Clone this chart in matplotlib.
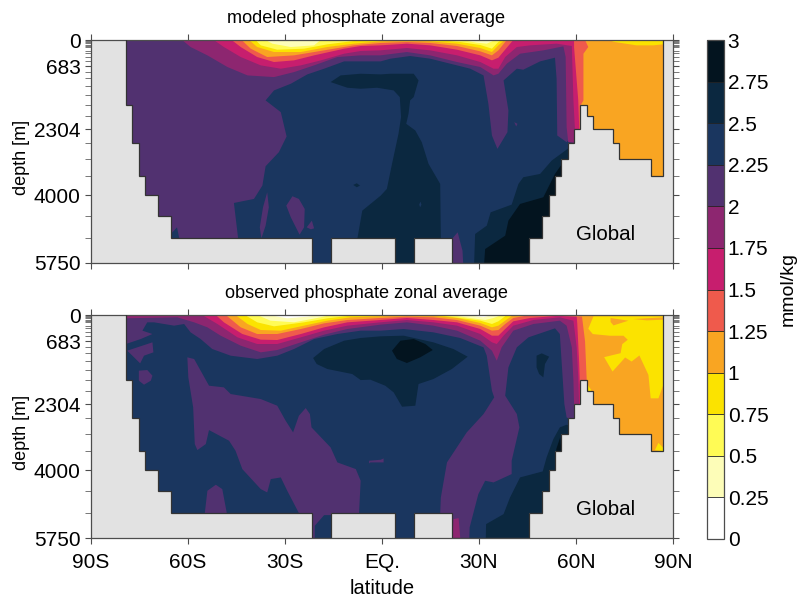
import matplotlib
matplotlib.use('Agg')
import matplotlib.pyplot as plt
from matplotlib.colors import ListedColormap, BoundaryNorm
from matplotlib.cm import ScalarMappable

plt.rcParams['font.family'] = ['Liberation Sans', 'DejaVu Sans']

# colour bands, lowest to highest
band_levels = [0, 0.25, 0.5, 0.75, 1, 1.25, 1.5, 1.75, 2, 2.25, 2.5, 2.75, 3]
band_labels = ['0', '0.25', '0.5', '0.75', '1', '1.25', '1.5', '1.75', '2', '2.25', '2.5', '2.75', '3']
band_colors = ['#ffffff', '#fdfdb8', '#fffb55', '#fbe300', '#f9a522', '#ef5a4c',
               '#c71e6e', '#8d2670', '#513170', '#1a365f', '#0b2840', '#03141f']
WHITE, PALE, YELLOW, GOLD, ORANGE, CORAL, MAGENTA, PLUM, PURPLE, NAVY, DARK, BLACK = band_colors

# model levels used as depth ticks
depth_levels = [0, 34, 60, 86, 120, 146, 189, 275, 344, 430, 551, 683, 818, 990, 1197, 1421,
                1679, 1963, 2304, 2660, 3065, 3503, 4000, 4536, 5113, 5750]
depth_labelled = [0, 683, 2304, 4000, 5750]
lat_ticks = [-90, -60, -30, 0, 30, 60, 90]
lat_labels = ['90S', '60S', '30S', 'EQ.', '30N', '60N', '90N']

# sea floor: cell edges in latitude, floor depth of each cell
floor_lat = [-79.2, -77.2, -75.2, -73.2, -69.3, -65.3, -21.7, -15.7, 3.9, 10, 21.8, 45.6, 49.6,
             51.6, 53.5, 55.5, 57.4, 59.4, 61.3, 63.3, 65.3, 71.3, 73.3, 83.1, 87]
floor_dep = [1687, 2660, 3503, 3994, 4536, 5113, 5750, 5113, 5750, 5113, 5750, 5113, 4536,
             3994, 3503, 3065, 2660, 2290, 1687, 1971, 2290, 2660, 3065, 3503]

# ---- modeled panel, contour outlines as (lat, depth) ----
m_purple = [(-80, 0), (-80, 5200), (-65.3, 5200), (-65.3, 5000), (-63.4, 4830), (-62.7, 5114), (-44.5, 5114),
            (-45.8, 4202), (-39.6, 4098), (-37, 3754), (-36, 3255), (-31.9, 2893), (-29.5, 2488), (-31.3, 1860),
            (-36, 1558), (-33.4, 1300), (-28.2, 1128), (-23.1, 887), (-17.9, 740), (-11.7, 551), (-0.4, 551),
            (2.6, 482), (8.7, 413), (14.9, 482), (21.1, 611), (27.3, 740), (31.4, 913), (32.9, 1644), (34, 2462),
            (35.7, 2807), (38.8, 2376), (39.1, 1817), (37.6, 1042), (41.7, 740), (43.7, 766), (48.9, 551),
            (53.5, 456), (54, 999), (54.2, 2462), (57.1, 2635), (59.4, 2420), (63, 2420), (63, 0)]
m_purple_a = [(-35.5, 3926), (-36.8, 4314), (-37.8, 4830), (-37.3, 5114), (-36, 4787), (-35, 4314)]
m_purple_b = [(-27.7, 4029), (-29.6, 4271), (-28.2, 4572), (-25.5, 5019), (-24.1, 4830), (-23.9, 4357), (-25.7, 4098)]
m_purple_c = [(-23.3, 4830), (-21.7, 4658), (-21, 4856), (-22, 4882)]
m_purple_d = [(21.8, 5114), (23.4, 4959), (24.9, 5433), (25.1, 5750), (21.8, 5750)]
m_purple_e = [(40.9, 2118), (41.9, 2161), (41.5, 2230)]
m_dark = [(-15.9, 1085), (-12.8, 913), (-6.6, 870), (-0.4, 887), (2.6, 870), (9.8, 870), (11.3, 1042), (9.8, 1472),
          (8.7, 1558), (8.2, 1903), (7.5, 2161), (10.3, 2333), (12.3, 2635), (14.4, 3194), (18, 3711), (18.2, 5114),
          (18.2, 5750), (-7.6, 5750), (-7.6, 5114), (-6.1, 4400), (-0.4, 4012), (1.5, 3840), (3.1, 3194), (5.1, 2419),
          (5.9, 1989), (5.5, 1472), (3.6, 1300), (-1.5, 1231), (-6.6, 1257), (-10.7, 1231)]
m_dark_dot = [(-8.9, 3737), (-7.8, 3694), (-6.8, 3754), (-7.8, 3797)]
m_navy_dot = [(11.9, 4167), (12.2, 4245), (11.8, 4314), (11.5, 4245)]
m_dark_n = [(28.5, 5750), (28.8, 5002), (32.4, 4787), (33.6, 4443), (40.1, 4245), (42.2, 3711), (43.7, 3539),
            (48.9, 3453), (52.5, 3108), (55.6, 2919), (58.1, 2764), (62, 3000), (62, 5750)]
m_black = [(31.6, 5750), (31.9, 5390), (38.1, 5045), (39.1, 4658), (42.7, 4227), (49.9, 4055), (53.5, 3453),
           (55.3, 3237), (56.1, 3194), (62, 3500), (62, 5750)]
m_plum = [(-61.8, 0), (-59.2, 181), (-54, 396), (-47.8, 697), (-41.6, 913), (-33.4, 956), (-27.2, 827), (-21, 654),
          (-13.8, 439), (-6.6, 396), (-0.5, 396), (7.7, 310), (14.9, 396), (23.2, 568), (30.4, 697), (34.5, 913),
          (36, 870), (38.6, 611), (42.7, 353), (49.9, 267), (56.1, 164), (56.8, 439), (57.1, 2247), (57.6, 2635),
          (65, 2700), (65, 0)]
m_magenta = [(-52, 0), (-48.9, 181), (-43.7, 439), (-37.5, 654), (-31.3, 740), (-25.1, 654), (-18.9, 525),
             (-11.7, 353), (-6.6, 284), (-0.5, 267), (7.7, 207), (14.9, 267), (23.2, 396), (30.4, 568), (34.5, 740),
             (36, 740), (38.1, 439), (41.7, 181), (45.8, 138), (54, 95), (58.7, 155), (59.2, 1558), (59.7, 2333),
             (66, 2400), (66, 0)]
m_coral = [(-46.5, 0), (-43.7, 181), (-38.6, 439), (-33.4, 568), (-27.2, 525), (-21, 396), (-11.7, 224), (-6.6, 155),
           (-0.5, 138), (7.7, 95), (14.9, 138), (23.2, 250), (30.4, 396), (34, 525), (36, 456), (38.6, 198), (40.6, 0)]
m_coral_n = [(59.4, 0), (59.4, 181), (60.7, 1558), (61, 2290), (66, 2400), (66, 0)]
m_orange = [(-43.4, 0), (-40.6, 224), (-35.5, 439), (-27.2, 396), (-17.9, 267), (-8.7, 138), (-0.4, 77), (7.7, 52),
            (14.9, 77), (23.2, 155), (30.4, 293), (34, 396), (36, 267), (38.6, 0)]
m_orange_n = [(62.8, 0), (63.8, 181), (62.3, 353), (62.3, 1558), (61.4, 1687), (61.4, 1800), (64, 3600), (90, 3600), (90, 0)]
m_gold = [(-41.1, 0), (-38.6, 181), (-33.4, 310), (-25.1, 310), (-16.9, 181), (-8.7, 95), (-0.4, 34), (7.7, 17),
          (14.9, 34), (23.2, 95), (30.4, 207), (34, 310), (36, 138), (37.9, 0)]
m_gold_n = [(70, 0), (72, 52), (78.7, 138), (83.9, 138), (87, 112), (87, 0)]
m_yellow = [(-39.1, 0), (-37.5, 138), (-32.4, 250), (-24.1, 224), (-16.9, 112), (-8.7, 26), (-6.1, 0)]
m_yellow_n = [(16.5, 0), (24.2, 52), (30.4, 129), (34, 224), (36, 52), (37, 0)]
m_pale = [(-36, 0), (-33.9, 95), (-28.2, 181), (-21, 138), (-19, 0)]
m_pale_n = [(24.7, 0), (29.3, 69), (32.4, 95), (35, 0)]

# ---- observed panel ----
o_purple = [(-80, 0), (-79.2, 748), (-74.6, 619), (-71, 490), (-74.1, 404), (-72.6, 189), (-70.5, 189), (-64.3, 275),
            (-61.2, 232), (-59.2, 447), (-56.1, 619), (-52.5, 877), (-46.8, 1049), (-38.6, 1135), (-32.4, 1049),
            (-27.2, 877), (-21, 619), (-13.8, 490), (-6.6, 404), (-0.5, 404), (6.7, 361), (15.9, 447), (24.2, 593),
            (31.4, 834), (32.4, 1049), (34, 1952), (34.7, 2124), (31.4, 2554), (26.2, 3027), (20.1, 3801), (18.2, 4704),
            (18, 5108), (18, 5750), (27, 5750), (27.1, 5478), (29.8, 4618), (31.9, 4274), (34.5, 4317), (40.1, 4102),
            (40.1, 3758), (42.5, 2898), (41.7, 2554), (38.1, 2081), (39.1, 1350), (41.7, 834), (45.3, 576), (53.5, 344),
            (55, 490), (55.6, 1264), (56.4, 2296), (57.1, 2640), (59.2, 2726), (65, 2800), (65, 0)]
o_purple_body = [(-60.2, 1092), (-58.1, 1135), (-53.5, 1823), (-48.9, 1866), (-46.8, 2038), (-37.5, 2167), (-32.4, 2339),
                 (-29.8, 2726), (-27.5, 3027), (-25.7, 2597), (-23.6, 2399), (-22.3, 2554), (-21.8, 2898), (-15.9, 3414),
                 (-13.8, 3801), (-8.1, 3973), (-6.6, 4274), (-7.1, 5108), (-25.7, 5108), (-29.3, 4532), (-31.3, 4188),
                 (-34.4, 4231), (-35.5, 4575), (-37.5, 4489), (-43.2, 3973), (-45.3, 3500), (-47.3, 3242), (-53.5, 2967),
                 (-54.5, 3328), (-57.1, 3483), (-57.9, 3328), (-58.4, 2382), (-59.9, 1608)]
o_purple_a = [(-78.8, 920), (-71, 705), (-70.7, 963), (-73.6, 1049), (-74.8, 1247), (-77.2, 1049)]
o_purple_b = [(-75.2, 1436), (-72.6, 1419), (-71, 1565), (-71.5, 1694), (-73.6, 1797), (-75.2, 1694)]
o_purple_c = [(-54.8, 5108), (-54, 4532), (-51.4, 4377), (-49.4, 4489), (-48, 5108)]
o_purple_d = [(-4, 3758), (-0.4, 3732), (0.5, 3698), (0.5, 3801), (-3.6, 3801), (-4, 3827)]
o_purple_e = [(-22, 5100), (-15.7, 5100), (-15.7, 5160), (-17.9, 5160), (-20.8, 5435), (-20.8, 5750), (-22, 5750)]
o_plum_b = [(21.8, 5750), (22.1, 5263), (23.7, 5237), (24.2, 5750)]
o_dark = [(-21.3, 1109), (-17.9, 877), (-11.7, 662), (-6.6, 593), (-0.5, 550), (6.7, 533), (15.9, 705), (22.1, 877),
          (26.5, 1075), (21.6, 1393), (15.9, 1651), (11.3, 1780), (10.3, 2339), (6.2, 2365), (3.6, 1995), (1, 1823),
          (-3.6, 1668), (-6.6, 1677), (-9.2, 1522), (-16.9, 1393), (-20.2, 1264)]
o_black = [(3.1, 920), (5.7, 662), (9.8, 619), (13.4, 748), (15.7, 903), (11.8, 1092), (7.7, 1238), (4.6, 1135)]
o_dark_a = [(47.8, 1049), (49.4, 989), (51.7, 1075), (50.4, 1264), (49.9, 1608), (48.6, 1522), (47.8, 1350)]
o_dark_n = [(32.1, 5750), (32.2, 5392), (37.6, 5134), (39.6, 4704), (42.7, 4188), (49.7, 4033), (50.9, 3672), (53, 3199),
            (55, 2898), (57.1, 2829), (62, 3000), (62, 5750)]
o_black_n = [(53.9, 3457), (55.1, 3156), (55.5, 3500), (53.9, 3517)]
o_plum = [(-80, 0), (-80, 86), (-63.3, 60), (-58.1, 189), (-54, 318), (-49.9, 533), (-43.7, 791), (-37.5, 963), (-32.4, 903),
          (-25.1, 705), (-17.9, 507), (-10.7, 361), (-0.5, 249), (7.7, 189), (15.9, 275), (23.2, 404), (30.4, 662), (34, 920),
          (35.5, 1178), (37, 834), (40.6, 404), (46.8, 232), (55, 146), (57.1, 275), (58.7, 834), (59.2, 1695), (59.4, 2296),
          (65, 2500), (65, 0)]
o_magenta = [(-55.6, 0), (-50.9, 232), (-44.7, 576), (-38.6, 748), (-32.4, 748), (-25.1, 576), (-17.9, 404), (-10.7, 275),
             (-0.5, 189), (7.7, 129), (15.9, 189), (23.2, 275), (30.4, 490), (34, 705), (35.5, 748), (37.6, 533), (40.6, 275),
             (46.8, 129), (55, 60), (59.2, 146), (60.2, 834), (60.7, 1608), (61, 2400), (66, 2500), (66, 0)]
o_coral = [(-51.4, 0), (-48.9, 189), (-43.2, 490), (-37.5, 636), (-32.4, 645), (-25.1, 490), (-17.9, 318), (-10.7, 189),
           (-0.5, 129), (7.7, 77), (15.9, 129), (23.2, 189), (30.4, 361), (34, 533), (36, 533), (38.1, 361), (40.6, 163),
           (45.8, 77), (55, 17), (57.1, 0)]
o_coral_n = [(60.2, 0), (60.4, 232), (61, 1264), (61.2, 1780), (66, 2400), (66, 0)]
o_orange = [(-48.3, 0), (-43.7, 318), (-38.6, 490), (-32.4, 490), (-25.1, 361), (-17.9, 215), (-10.7, 129), (-0.5, 77),
            (7.7, 43), (15.9, 60), (23.2, 129), (30.4, 275), (34, 404), (36, 387), (38.1, 232), (40.6, 77), (45.8, 0)]
o_orange_n = [(61.8, 0), (62.8, 680), (63.3, 1650), (63.3, 1800), (64, 3600), (90, 3600), (90, 0)]
o_orange_top = [(47, 0), (62, 0), (62, 40), (55, 25)]
o_gold = [(-45.3, 0), (-41.6, 232), (-37.5, 387), (-31.3, 404), (-24.1, 275), (-16.9, 146), (-9.7, 60), (-0.5, 34), (7.7, 9),
          (15.9, 26), (23.2, 77), (30.4, 206), (34, 318), (36, 275), (38.1, 146), (40.6, 0)]
o_gold_n = [(65.4, 34), (63.8, 354), (65.2, 492), (70.5, 535), (74.7, 535), (76, 639), (74.3, 751), (73.8, 984), (68.7, 1087),
            (71.3, 1458), (75.2, 1096), (77.2, 1200), (79.6, 1044), (82.4, 1545), (83.1, 2149), (85.5, 2149), (87, 1804),
            (90, 1804), (90, 34)]
o_orange_p = [(70.7, 78), (76.2, 147), (71.6, 268), (70.7, 181)]
o_orange_q = [(77.7, 104), (87, 60), (87, 121), (81.9, 138)]
o_gold_p = [(84.4, 3486), (85.5, 3297), (87, 3426), (87, 3512)]
o_gold_q = [(63.5, 1786), (64.7, 1933), (64.3, 1976), (63.3, 1933)]
o_yellow = [(-42.4, 0), (-38.6, 189), (-33.4, 292), (-24.1, 189), (-16.9, 86), (-9.7, 17), (-8.7, 0)]
o_yellow_n = [(17, 0), (24.2, 77), (30.4, 146), (34, 232), (36, 163), (38.6, 0)]
o_pale = [(-38.6, 0), (-34.5, 146), (-27.2, 189), (-19, 60), (-15.9, 0)]
o_pale_n = [(21.1, 0), (27.3, 77), (31.9, 129), (34.5, 77), (37, 0)]
o_white = [(-35, 0), (-29.3, 86), (-23.1, 43), (-19.5, 0)]
o_white_n = [(26.2, 0), (31.4, 60), (34, 0)]

model_layers = [(PURPLE, m_purple), (PURPLE, m_purple_a), (PURPLE, m_purple_b), (PURPLE, m_purple_c),
                (PURPLE, m_purple_d), (PURPLE, m_purple_e), (DARK, m_dark), (DARK, m_dark_dot), (NAVY, m_navy_dot),
                (DARK, m_dark_n), (BLACK, m_black), (PLUM, m_plum), (MAGENTA, m_magenta), (CORAL, m_coral),
                (CORAL, m_coral_n), (ORANGE, m_orange), (ORANGE, m_orange_n), (GOLD, m_gold), (GOLD, m_gold_n),
                (YELLOW, m_yellow), (YELLOW, m_yellow_n), (PALE, m_pale), (PALE, m_pale_n)]
obs_layers = [(PURPLE, o_purple), (PURPLE, o_purple_body), (PURPLE, o_purple_a), (PURPLE, o_purple_b),
              (PURPLE, o_purple_c), (PURPLE, o_purple_d), (PURPLE, o_purple_e), (PLUM, o_plum_b), (DARK, o_dark),
              (BLACK, o_black), (DARK, o_dark_a), (DARK, o_dark_n), (BLACK, o_black_n), (PLUM, o_plum),
              (MAGENTA, o_magenta), (CORAL, o_coral), (CORAL, o_coral_n), (ORANGE, o_orange), (ORANGE, o_orange_n),
              (ORANGE, o_orange_top), (GOLD, o_gold), (GOLD, o_gold_n), (ORANGE, o_orange_p), (ORANGE, o_orange_q),
              (GOLD, o_gold_p), (GOLD, o_gold_q), (YELLOW, o_yellow), (YELLOW, o_yellow_n), (PALE, o_pale),
              (PALE, o_pale_n), (WHITE, o_white), (WHITE, o_white_n)]

W, H = 800.0, 597.0
LINE = '#4d4d4d'
fig = plt.figure(figsize=(W / 100, H / 100), dpi=100)


def panel(top, bottom):
    return fig.add_axes([91 / W, 1 - bottom / H, 582 / W, (bottom - top) / H])


def draw_panel(ax, title, layers):
    ax.set_facecolor('#e2e2e2')
    # ocean outline from the floor cells
    xs, ys = [floor_lat[0]], [0]
    for i, d in enumerate(floor_dep):
        xs += [floor_lat[i], floor_lat[i + 1]]
        ys += [d, d]
    xs.append(floor_lat[-1])
    ys.append(0)
    ocean = ax.fill(xs, ys, color=NAVY, lw=0, zorder=1)[0]
    for col, pts in layers:
        lat, dep = zip(*pts)
        p = ax.fill(lat, dep, color=col, lw=0, zorder=2)[0]
        p.set_clip_path(ocean)
    ax.plot(xs, ys, color='#333333', lw=0.9, zorder=3, solid_joinstyle='miter')

    ax.set_xlim(-90, 90)
    ax.set_ylim(5750, 0)
    ax.set_xticks(lat_ticks)
    ax.set_xticklabels([])
    ax.set_yticks(depth_labelled)
    ax.set_yticks(depth_levels, minor=True)
    ax.tick_params(which='major', direction='out', length=4.5, width=0.8, color=LINE,
                   top=True, right=True, labelsize=15)
    ax.tick_params(which='minor', direction='out', length=4.5, width=0.7, color='#777777',
                   left=True, right=True)
    ax.tick_params(axis='y', which='major', pad=3)
    ax.tick_params(axis='x', which='major', pad=6)
    for s in ax.spines.values():
        s.set_color(LINE)
        s.set_linewidth(0.9)
    ax.set_title(title, fontsize=13.1, pad=12, x=0.473)
    ax.set_ylabel('depth [m]', fontsize=13, labelpad=3, y=0.475)
    ax.text(69, 5025, 'Global', fontsize=14.8, ha='center', va='center', zorder=4)


ax1 = panel(40, 263)
ax2 = panel(315, 538)
draw_panel(ax1, 'modeled phosphate zonal average', model_layers)
draw_panel(ax2, 'observed phosphate zonal average', obs_layers)
ax2.set_xticklabels(lat_labels)
ax2.set_xlabel('latitude', fontsize=14.5, labelpad=5)

cax = fig.add_axes([706.5 / W, 1 - 539 / H, 17 / W, 499 / H])
sm = ScalarMappable(norm=BoundaryNorm(band_levels, len(band_colors)), cmap=ListedColormap(band_colors))
cb = fig.colorbar(sm, cax=cax, drawedges=True, spacing='proportional')
cb.set_ticks(band_levels)
cb.set_ticklabels(band_labels)
cb.ax.tick_params(length=0, labelsize=15, pad=3)
cb.outline.set_edgecolor(LINE)
cb.outline.set_linewidth(0.9)
cb.dividers.set_color('#222222')
cb.dividers.set_linewidth(0.6)
fig.text(788 / W, 1 - 289 / H, 'mmol/kg', rotation=90, fontsize=14, ha='center', va='center')

fig.savefig('out.png', dpi=100)
